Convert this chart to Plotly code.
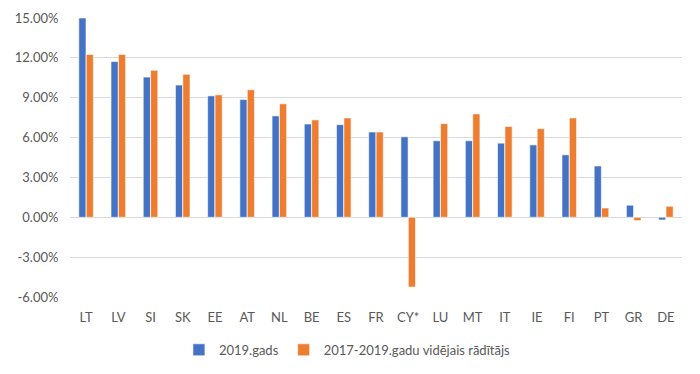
import plotly.graph_objects as go

categories = ["LT", "LV", "SI", "SK", "EE", "AT", "NL", "BE", "ES", "FR", "CY*",
              "LU", "MT", "IT", "IE", "FI", "PT", "GR", "DE"]
series_2019 = [15.0, 11.72, 10.55, 9.95, 9.14, 8.86, 7.63, 7.02, 6.97, 6.42, 6.06,
               5.76, 5.76, 5.58, 5.45, 4.70, 3.86, 0.91, -0.20]
series_avg = [12.25, 12.25, 11.06, 10.76, 9.22, 9.60, 8.54, 7.33, 7.48, 6.42, -5.25,
              7.05, 7.78, 6.84, 6.67, 7.48, 0.70, -0.25, 0.83]
name_2019 = "2019.gads"
name_avg = "2017-2019.gadu vidējais rādītājs"
tick_vals = [-6, -3, 0, 3, 6, 9, 12, 15]
tick_text = ["-6.00%", "-3.00%", "0.00%", "3.00%", "6.00%", "9.00%", "12.00%", "15.00%"]

FONT = "Lato, 'Open Sans', sans-serif"

fig = go.Figure()
fig.add_trace(go.Bar(x=categories, y=series_2019, name=name_2019,
                     marker=dict(color="#4472C4", line=dict(color="white", width=0.6))))
fig.add_trace(go.Bar(x=categories, y=series_avg, name=name_avg,
                     marker=dict(color="#ED7D31", line=dict(color="white", width=0.6))))

# page body has an 8px default margin, so the figure is sized 692x366
fig.update_layout(
    width=692, height=366,
    margin=dict(l=62, r=18, t=10, b=77),
    paper_bgcolor="white", plot_bgcolor="white",
    barmode="group", bargap=0.54, bargroupgap=0.03,
    font=dict(family=FONT, size=13, color="#595959"),
    legend=dict(orientation="h", xref="container", x=0.247, xanchor="left",
                yref="container", y=0.066, yanchor="middle",
                font=dict(size=13, color="#595959"),
                itemwidth=30, traceorder="normal"),
    showlegend=True,
)
fig.update_xaxes(showgrid=False, showline=False, zeroline=False, automargin=False,
                 ticks="outside", ticklen=8, tickcolor="rgba(0,0,0,0)",
                 tickfont=dict(size=13, color="#595959"))
fig.update_yaxes(range=[-6, 15], tickvals=tick_vals, ticktext=tick_text,
                 automargin=False,
                 showgrid=True, gridcolor="#D9D9D9", gridwidth=1,
                 zeroline=True, zerolinecolor="#D9D9D9", zerolinewidth=1,
                 showline=False, ticks="outside", ticklen=8,
                 tickcolor="rgba(0,0,0,0)",
                 tickfont=dict(size=13, color="#595959"))

fig.write_html("out.html")
